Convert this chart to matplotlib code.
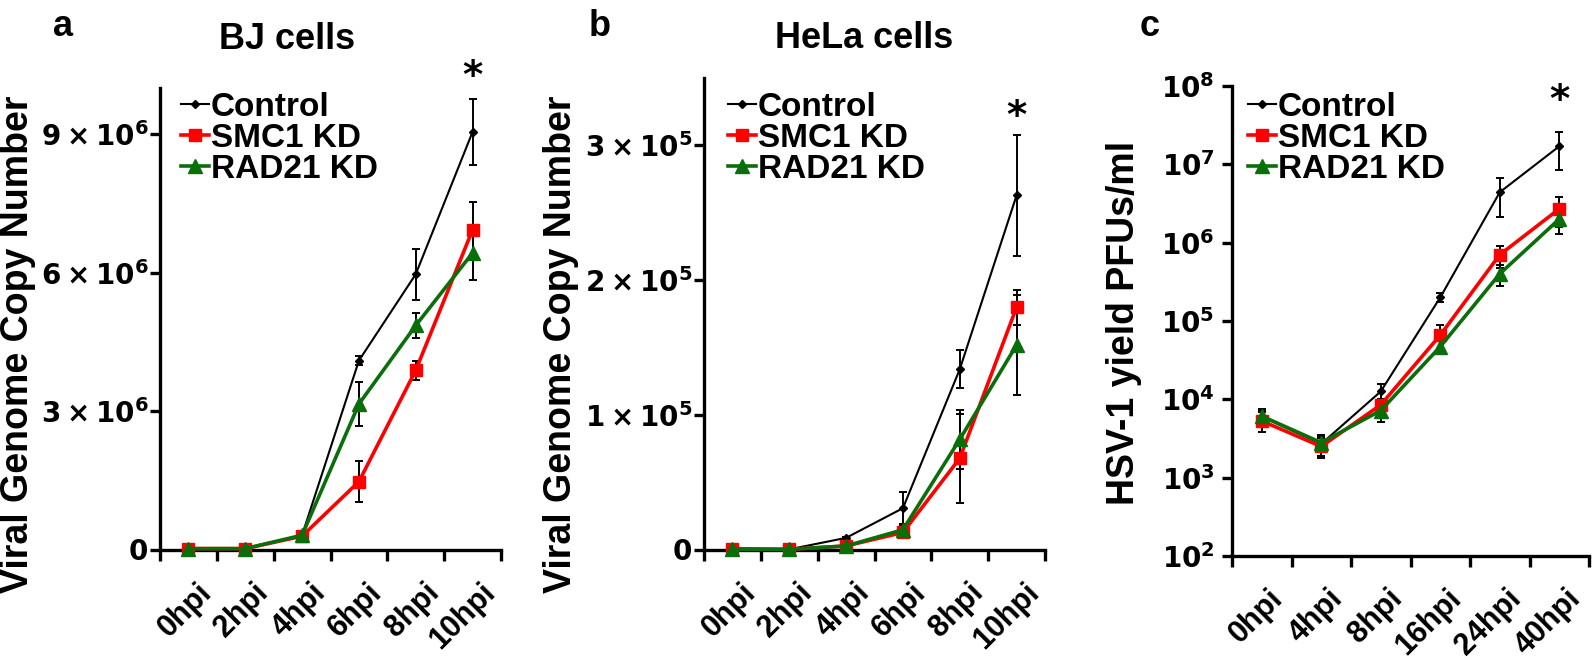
import matplotlib
matplotlib.use('Agg')
import matplotlib.pyplot as plt
import matplotlib.transforms as mtransforms
import numpy as np

FONT = ['Liberation Sans', 'DejaVu Sans']
plt.rcParams['font.family'] = FONT
plt.rcParams['font.weight'] = 'bold'
plt.rcParams['mathtext.fontset'] = 'dejavusans'

# ---------------- data ----------------
series_names = ['Control', 'SMC1 KD', 'RAD21 KD']

bj_times = ['0hpi', '2hpi', '4hpi', '6hpi', '8hpi', '10hpi']
bj_control = [0.03e6, 0.03e6, 0.32e6, 4.10e6, 5.97e6, 9.05e6]
bj_control_err = [0.02e6, 0.02e6, 0.05e6, 0.10e6, 0.55e6, 0.72e6]
bj_smc1 = [0.03e6, 0.03e6, 0.30e6, 1.48e6, 3.89e6, 6.93e6]
bj_smc1_err = [0.02e6, 0.02e6, 0.05e6, 0.44e6, 0.20e6, 0.60e6]
bj_rad21 = [0.03e6, 0.03e6, 0.32e6, 3.16e6, 4.86e6, 6.43e6]
bj_rad21_err = [0.02e6, 0.02e6, 0.05e6, 0.47e6, 0.27e6, 0.58e6]

hela_times = ['0hpi', '2hpi', '4hpi', '6hpi', '8hpi', '10hpi']
hela_control = [0.010e5, 0.005e5, 0.09e5, 0.31e5, 1.34e5, 2.63e5]
hela_control_err = [0.003e5, 0.003e5, 0.01e5, 0.12e5, 0.14e5, 0.45e5]
hela_smc1 = [0.010e5, 0.005e5, 0.03e5, 0.13e5, 0.68e5, 1.80e5]
hela_smc1_err = [0.003e5, 0.003e5, 0.01e5, 0.03e5, 0.33e5, 0.13e5]
hela_rad21 = [0.005e5, 0.005e5, 0.03e5, 0.15e5, 0.82e5, 1.52e5]
hela_rad21_err = [0.003e5, 0.003e5, 0.01e5, 0.03e5, 0.22e5, 0.37e5]

hsv_times = ['0hpi', '4hpi', '8hpi', '16hpi', '24hpi', '40hpi']
hsv_control = [6.0e3, 2.7e3, 1.26e4, 2.0e5, 4.4e6, 1.7e7]
hsv_control_err = [1.5e3, 0.8e3, 3.0e3, 2.5e4, 2.3e6, 8.5e6]
hsv_smc1 = [5.3e3, 2.5e3, 8.5e3, 6.6e4, 7.0e5, 2.7e6]
hsv_smc1_err = [1.5e3, 0.7e3, 1.5e3, 2.4e4, 2.2e5, 1.1e6]
hsv_rad21 = [6.1e3, 2.8e3, 7.2e3, 4.7e4, 4.0e5, 2.0e6]
hsv_rad21_err = [1.0e3, 0.6e3, 2.0e3, 0.8e4, 1.2e5, 0.7e6]

bj_yticks = [0, 3e6, 6e6, 9e6]
bj_yticklabels = [r'$\mathbf{0}$', r'$\mathbf{3\times10^{6}}$', r'$\mathbf{6\times10^{6}}$', r'$\mathbf{9\times10^{6}}$']
hela_yticks = [0, 1e5, 2e5, 3e5]
hela_yticklabels = [r'$\mathbf{0}$', r'$\mathbf{1\times10^{5}}$', r'$\mathbf{2\times10^{5}}$', r'$\mathbf{3\times10^{5}}$']
hsv_yticks = [1e2, 1e3, 1e4, 1e5, 1e6, 1e7, 1e8]
hsv_yticklabels = [r'$\mathbf{10^{%d}}$' % k for k in range(2, 9)]

# ---------------- layout ----------------
W, H = 1592, 660
fig = plt.figure(figsize=(W / 100, H / 100), dpi=100)

def rect(l, t, r, b):
    return [l / W, 1 - b / H, (r - l) / W, (b - t) / H]

def fxy(x, y):
    return x / W, 1 - y / H

RED = '#ff0000'
GREEN = '#0a6e0a'
SPW = 2.4

def panel(ax, times, ctrl, ctrl_e, smc, smc_e, rad, rad_e, log=False, xshift=8):
    x = np.arange(len(times))
    specs = [
        (ctrl, ctrl_e, 'black', 'D', 4.5, 1.5),
        (smc, smc_e, RED, 's', 9, 2.6),
        (rad, rad_e, GREEN, '^', 10, 2.6),
    ]
    handles = []
    for (vals, errs, c, m, ms, lw), name in zip(specs, series_names):
        cont = ax.errorbar(x, vals, yerr=errs, color=c, ecolor='black',
                           elinewidth=1.4, capsize=3, capthick=1.4,
                           marker=m, ms=ms, mec=c, mfc=c, lw=lw,
                           label=name, clip_on=False, zorder=3)
        handles.append(cont.lines[0])
    if log:
        ax.set_yscale('log')
    ax.set_xlim(-0.5, len(times) - 0.5)
    for s in ['top', 'right']:
        ax.spines[s].set_visible(False)
    for s in ['left', 'bottom']:
        ax.spines[s].set_linewidth(SPW)
    ax.set_xticks(np.arange(len(times) + 1) - 0.5)
    ax.set_xticklabels([])
    ax.set_xticks(x, minor=True)
    ax.set_xticklabels(times, minor=True, rotation=45, ha='right',
                       va='top', rotation_mode='anchor', fontsize=22,
                       fontweight='bold')
    ax.tick_params(axis='x', which='major', length=8, width=SPW, direction='out')
    ax.tick_params(axis='x', which='minor', length=0, pad=20)
    ax.tick_params(axis='y', which='major', length=7.5, width=SPW, direction='out',
                   labelsize=20, pad=1)
    ax.tick_params(axis='y', which='minor', length=0)
    off = mtransforms.ScaledTranslation(xshift / 100, 0, fig.dpi_scale_trans)
    for lab in ax.get_xticklabels(minor=True):
        lab.set_transform(lab.get_transform() + off)
    return handles

def add_legend(ax, handles, ax_x, ax_y):
    ax.legend(handles, series_names, loc='upper left', bbox_to_anchor=(ax_x, ax_y),
              frameon=False, prop={'family': FONT, 'size': 24, 'weight': 'bold'},
              handlelength=0.85, handletextpad=0.05, labelspacing=0.0,
              borderpad=0, borderaxespad=0, numpoints=1)

def star(ax, xv, yv):
    ax.annotate('*', xy=(xv, yv), xytext=(0, -12), textcoords='offset points',
                ha='center', va='baseline', fontsize=28, fontweight='bold',
                family='DejaVu Sans', annotation_clip=False)

# Panel a
axa = fig.add_axes(rect(160, 88, 501, 550))
ha = panel(axa, bj_times, bj_control, bj_control_err, bj_smc1, bj_smc1_err,
           bj_rad21, bj_rad21_err, xshift=8)
axa.set_ylim(0, 1.0e7)
axa.set_yticks(bj_yticks)
axa.set_yticklabels(bj_yticklabels)
add_legend(axa, ha, (181 - 160) / 341, (550 - 92) / 462)
star(axa, 5, 1.037e7)

# Panel b
axb = fig.add_axes(rect(704, 78, 1045, 550))
hb = panel(axb, hela_times, hela_control, hela_control_err, hela_smc1, hela_smc1_err,
           hela_rad21, hela_rad21_err, xshift=8)
axb.set_ylim(0, 3.5e5)
axb.set_yticks(hela_yticks)
axb.set_yticklabels(hela_yticklabels)
add_legend(axb, hb, (728 - 704) / 341, (550 - 92) / 472)
star(axb, 5, 3.25e5)

# Panel c
axc = fig.add_axes(rect(1232, 86, 1589, 556))
hc = panel(axc, hsv_times, hsv_control, hsv_control_err, hsv_smc1, hsv_smc1_err,
           hsv_rad21, hsv_rad21_err, log=True, xshift=6)
axc.set_ylim(1e2, 1e8)
axc.set_yticks(hsv_yticks)
axc.set_yticklabels(hsv_yticklabels)
axc.yaxis.set_minor_locator(matplotlib.ticker.NullLocator())
axc.tick_params(axis='y', which='major', pad=5)
add_legend(axc, hc, (1248 - 1232) / 357, (556 - 92) / 470)
star(axc, 5, 7.5e7)

# titles, panel letters, y labels
fig.text(*fxy(287, 49), 'BJ cells', ha='center', va='baseline', fontsize=26, fontweight='bold')
fig.text(*fxy(864, 48), 'HeLa cells', ha='center', va='baseline', fontsize=26, fontweight='bold')
for letter, (lx, ly) in zip(['a', 'b', 'c'], [(63, 36), (600, 36), (1150, 36)]):
    fig.text(*fxy(lx, ly), letter, ha='center', va='baseline', fontsize=26, fontweight='bold')

ylab_font = {'family': FONT, 'weight': 'bold', 'size': 27}
fig.text(*fxy(18, 344), 'Viral Genome Copy Number', rotation=90, ha='center', va='center', fontdict=ylab_font)
fig.text(*fxy(561, 344), 'Viral Genome Copy Number', rotation=90, ha='center', va='center', fontdict=ylab_font)
fig.text(*fxy(1124, 323), 'HSV-1 yield PFUs/ml', rotation=90, ha='center', va='center', fontdict=ylab_font)

fig.savefig('out.png', dpi=100)
